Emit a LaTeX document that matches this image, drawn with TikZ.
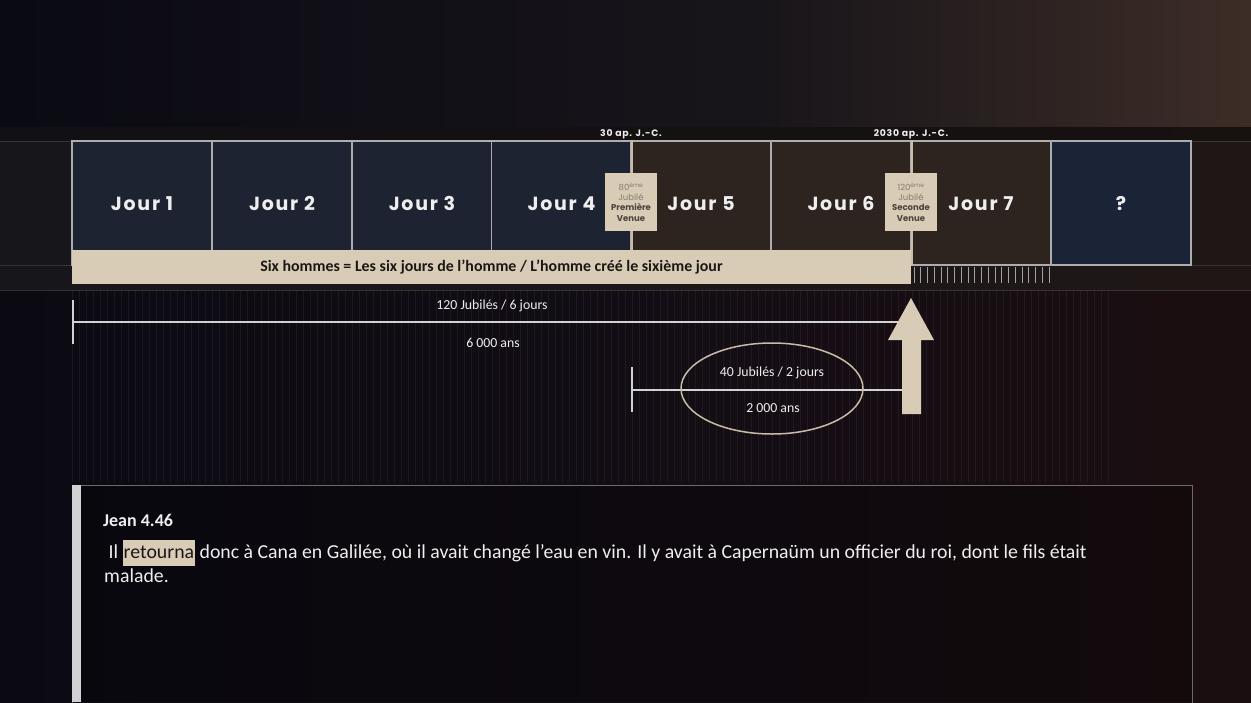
\documentclass[tikz,border=0pt]{standalone}
\usepackage{fontspec}
\setmainfont{Carlito}
\newfontfamily\dayfont{Poppins}[LetterSpace=9]
\newfontfamily\tagfont{Poppins}[LetterSpace=8]
\newfontfamily\jubfont{Poppins}
\usetikzlibrary{shapes.geometric}

\definecolor{beige}{HTML}{D9CCB6}
\definecolor{navybox}{HTML}{1D2331}
\definecolor{brownbox}{HTML}{2D231F}
\definecolor{qbox}{HTML}{1B2436}
\definecolor{frame}{HTML}{ADADAD}
\definecolor{divline}{HTML}{C9BCA6}
\definecolor{bgleft}{HTML}{0B0A13}
\definecolor{bgmid}{HTML}{120D14}
\definecolor{bgright}{HTML}{1B0E11}
\definecolor{topleft}{HTML}{0A0A14}
\definecolor{topmid}{HTML}{18151A}
\definecolor{topright}{HTML}{3D2D27}
\definecolor{stripleft}{HTML}{17161B}
\definecolor{stripright}{HTML}{1F1716}
\definecolor{jubgray}{HTML}{857D72}
\definecolor{jubdark}{HTML}{4A443D}
\definecolor{ink}{HTML}{1A1714}
\definecolor{paper}{HTML}{EEEEEE}
\definecolor{rule}{HTML}{D2D2D2}
\definecolor{ellcol}{HTML}{C8BCA8}
\definecolor{boxedge}{HTML}{6E6A6C}

\newcommand{\hilite}[1]{{\setlength{\fboxsep}{1pt}\colorbox{beige}{\strut\textcolor{ink}{#1}}}}

\tikzset{
  daybox/.style={draw=frame, line width=1.5pt, minimum width=140pt, minimum height=124pt,
    inner sep=0pt, text height=14pt, text depth=0pt, text=paper,
    font=\dayfont\bfseries\fontsize{19}{21}\selectfont},
  jubbox/.style={fill=beige, minimum width=52pt, minimum height=58pt, inner sep=0pt,
    align=center, font=\jubfont\fontsize{8.5}{10.2}\selectfont, text=jubdark},
  datetag/.style={text=paper, font=\tagfont\bfseries\fontsize{9.3}{11}\selectfont, inner sep=0pt},
  span/.style={draw=rule, line width=2pt},
  spantick/.style={draw=rule, line width=2pt},
  spanlbl/.style={text=paper, font=\fontsize{13.8}{16}\selectfont, inner sep=0pt},
  versetext/.style={text=paper, font=\fontsize{19.8}{24}\selectfont, inner sep=0pt, anchor=base west},
}

\begin{document}
\begin{tikzpicture}[x=1pt,y=-1pt]
\useasboundingbox (0,0) rectangle (1251,702);

% backdrop
\shade[left color=bgleft, right color=bgright, middle color=bgmid] (0,0) rectangle (1251,702);
\shade[left color=topleft, right color=topmid] (0,0) rectangle (760,127);
\shade[left color=topmid, right color=topright] (760,0) rectangle (1251,127);
\shade[left color=stripleft, right color=stripright] (0,127) rectangle (1251,290);
\fill[black, opacity=0.25] (0,127) rectangle (1251,141);
\draw[white, opacity=0.12, line width=0.8pt] (0,141) -- (1251,141) (0,265) -- (1251,265) (0,290) -- (1251,290);

% faint vertical grain
\foreach \x in {72,79,...,1110} {
  \draw[white, opacity=0.05, line width=0.8pt] (\x,290) -- (\x,482);
}

% day boxes
\node[daybox, fill=navybox] (d1) at (142,203) {Jour 1};
\node[daybox, fill=navybox] (d2) at (282,203) {Jour 2};
\node[daybox, fill=navybox] (d3) at (422,203) {Jour 3};
\node[daybox, fill=navybox] (d4) at (561.5,203) {Jour 4};
\node[daybox, fill=brownbox] (d5) at (701,203) {Jour 5};
\node[daybox, fill=brownbox] (d6) at (841,203) {Jour 6};
\node[daybox, fill=brownbox] (d7) at (981,203) {Jour 7};
\node[daybox, fill=qbox] (d8) at (1121,203) {?};

% era dividers
\draw[divline, line width=2pt] (d4.north east) -- (d4.south east);
\draw[divline, line width=2pt] (d6.north east) -- (d6.south east);

% date tags
\node[datetag] (t30) at (631,134) {30 ap. J.-C.};
\node[datetag] (t2030) at (911,134) {2030 ap. J.-C.};

% jubilee markers
\node[jubbox] (j80) at (631,202) {\textcolor{jubgray}{80\textsuperscript{ème}}\\\textcolor{jubgray}{Jubilé}\\\textbf{Première}\\\textbf{Venue}};
\node[jubbox] (j120) at (911,202) {\textcolor{jubgray}{120\textsuperscript{ème}}\\\textcolor{jubgray}{Jubilé}\\\textbf{Seconde}\\\textbf{Venue}};

% six days banner
\node[fill=beige, minimum width=839pt, minimum height=34pt, inner sep=0pt, text=ink,
  font=\bfseries\fontsize{15.9}{18}\selectfont] (six) at (491.5,267)
  {Six hommes = Les six jours de l'homme / L'homme créé le sixième jour};

% ticks under day 7
\foreach \i in {0,...,20} {
  \draw[white, opacity=0.6, line width=1pt] (914+\i*6.75,267) -- (914+\i*6.75,283);
}

% span of six days
\coordinate (s1a) at (73,322);
\coordinate (s1b) at (906,322);
\draw[spantick] (73,300) -- (73,344);
\draw[span] (s1a) -- (s1b);
\node[spanlbl] (l120) at (492,306) {120 Jubilés / 6 jours};
\node[spanlbl] (l6000) at (493,343) {6 000 ans};

% span of two days
\coordinate (s2a) at (632,390);
\coordinate (s2b) at (906,390);
\draw[spantick] (632,367) -- (632,412);
\draw[span] (s2a) -- (s2b);
\node[ellipse, draw=ellcol, line width=1.5pt, minimum width=182pt, minimum height=91pt, inner sep=0pt] (ell) at (772,388.5) {};
\node[spanlbl] (l40) at (772,373) {40 Jubilés / 2 jours};
\node[spanlbl] (l2000) at (773,408) {2 000 ans};

% return arrow
\fill[beige] (902,414) -- (902,340) -- (888,340) -- (911,298) -- (934,340) -- (921,340) -- (921,414) -- cycle;

% verse panel
\fill[black, opacity=0.25] (72,485) rectangle (1192,702);
\draw[boxedge, line width=1pt] (72,710) -- (72,485) -- (1192,485) -- (1192,710);
\fill[rule] (72,485) rectangle (81,702);
\node[versetext, font=\bfseries\fontsize{18}{23}\selectfont] (ref) at (103,526) {Jean 4.46};
\node[versetext] (v1) at (104,558) {\ Il \hilite{retourna} donc à Cana en Galilée, où il avait changé l’eau en vin. Il y avait à Capernaüm un officier du roi, dont le fils était};
\node[versetext] (v2) at (104,582) {malade.};
\end{tikzpicture}
\end{document}
